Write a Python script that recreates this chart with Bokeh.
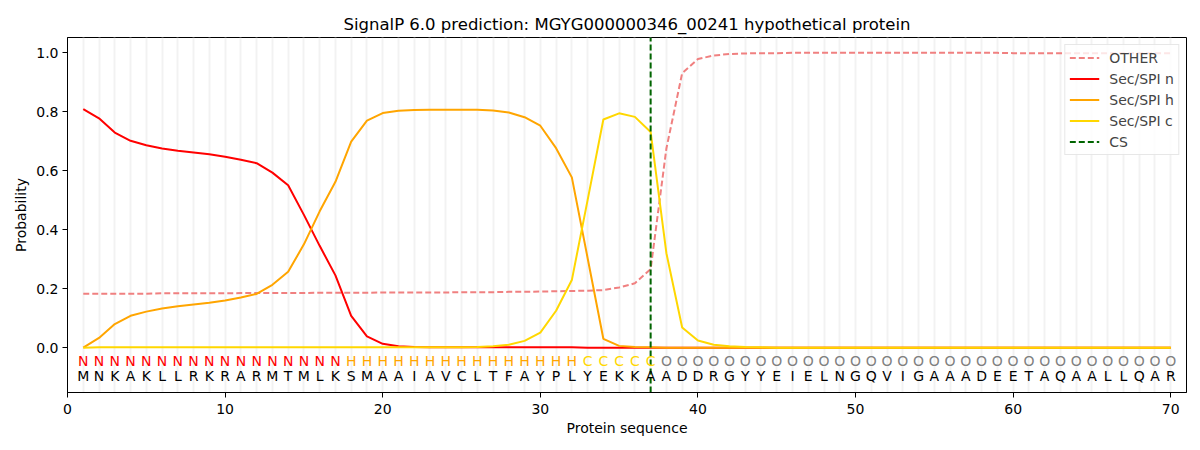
from bokeh.plotting import figure
from bokeh.models import FixedTicker, Range1d, ColumnDataSource, PrintfTickFormatter
from bokeh.core.properties import value
from bokeh.embed import file_html
from bokeh.resources import INLINE

title_text = "SignalP 6.0 prediction: MGYG000000346_00241 hypothetical protein"

residues = list("MNKAKLLRKRARMTMLKSMAAIAVCLTFAYPLYEKKAADDRGYYEIELNGQVIGAAADEETAQAALLQAR")
region_labels = list("NNNNNNNNNNNNNNNNNHHHHHHHHHHHHHHHCCCCCOOOOOOOOOOOOOOOOOOOOOOOOOOOOOOOOO")
positions = list(range(1, len(residues) + 1))

other = [0.183, 0.183, 0.183, 0.183, 0.183, 0.184, 0.184, 0.184, 0.184, 0.184,
         0.185, 0.185, 0.185, 0.185, 0.185, 0.186, 0.186, 0.186, 0.186, 0.187,
         0.187, 0.187, 0.187, 0.187, 0.188, 0.188, 0.188, 0.189, 0.189, 0.190,
         0.191, 0.192, 0.193, 0.195, 0.204, 0.218, 0.266, 0.675, 0.930, 0.978,
         0.990, 0.995, 0.997, 0.998, 0.998, 0.999, 0.999, 0.999, 0.999, 0.999,
         0.999, 0.999, 0.999, 0.999, 0.999, 0.999, 0.999, 0.999, 0.999, 0.998,
         0.998, 0.998, 0.998, 0.998, 0.998, 0.998, 0.998, 0.998, 0.998, 0.998]

sec_n = [0.808, 0.777, 0.729, 0.701, 0.686, 0.675, 0.667, 0.661, 0.655, 0.647,
         0.637, 0.625, 0.593, 0.550, 0.450, 0.345, 0.245, 0.108, 0.038, 0.013,
         0.005, 0.002, 0.001, 0.001, 0.001, 0.001, 0.001, 0.001, 0.001, 0.001,
         0.001, 0.001, 0.000, 0.000, 0.000, 0.000, 0.000, 0.000, 0.000, 0.000,
         0.000, 0.000, 0.000, 0.000, 0.000, 0.000, 0.000, 0.000, 0.000, 0.000,
         0.000, 0.000, 0.000, 0.000, 0.000, 0.000, 0.000, 0.000, 0.000, 0.000,
         0.000, 0.000, 0.000, 0.000, 0.000, 0.000, 0.000, 0.000, 0.000, 0.000]

sec_h = [0.000, 0.033, 0.080, 0.108, 0.122, 0.133, 0.140, 0.146, 0.152, 0.160,
         0.170, 0.182, 0.213, 0.257, 0.350, 0.462, 0.562, 0.698, 0.769, 0.795,
         0.803, 0.805, 0.806, 0.806, 0.806, 0.806, 0.804, 0.797, 0.781, 0.752,
         0.676, 0.577, 0.304, 0.030, 0.006, 0.002, 0.001, 0.000, 0.000, 0.000,
         0.000, 0.000, 0.000, 0.000, 0.000, 0.000, 0.000, 0.000, 0.000, 0.000,
         0.000, 0.000, 0.000, 0.000, 0.000, 0.000, 0.000, 0.000, 0.000, 0.000,
         0.000, 0.000, 0.000, 0.000, 0.000, 0.000, 0.000, 0.000, 0.000, 0.000]

sec_c = [0.000, 0.001, 0.001, 0.001, 0.001, 0.001, 0.001, 0.001, 0.001, 0.001,
         0.001, 0.001, 0.001, 0.001, 0.001, 0.001, 0.001, 0.001, 0.001, 0.001,
         0.001, 0.001, 0.001, 0.001, 0.001, 0.002, 0.005, 0.010, 0.023, 0.051,
         0.125, 0.229, 0.500, 0.773, 0.794, 0.782, 0.731, 0.320, 0.068, 0.024,
         0.010, 0.005, 0.002, 0.001, 0.000, 0.000, 0.000, 0.000, 0.000, 0.000,
         0.000, 0.000, 0.000, 0.000, 0.000, 0.000, 0.000, 0.000, 0.000, 0.000,
         0.000, 0.000, 0.000, 0.000, 0.000, 0.000, 0.000, 0.000, 0.000, 0.000]

cs_position = 37

label_colors_map = {"N": "red", "H": "orange", "C": "gold", "O": "gray"}
y_ticks = [0.0, 0.2, 0.4, 0.6, 0.8, 1.0]
x_ticks = [0, 10, 20, 30, 40, 50, 60, 70]
y_lo, y_hi = -0.152, 1.051

FONT = "DejaVu Sans"

p = figure(frame_width=1119, frame_height=355, output_backend="svg", toolbar_location=None,
           x_range=Range1d(0, 71), y_range=Range1d(y_lo, y_hi),
           title=title_text)
p.min_border_left = 67
p.min_border_right = 13
p.min_border_bottom = 57
p.min_border_top = 37

p.title.align = "center"
p.title.text_font = FONT
p.title.text_font_size = "16.5px"
p.title.text_font_style = "normal"
p.title.text_color = "black"
p.title.standoff = 8

p.outline_line_color = "black"
p.outline_line_width = 1
p.outline_line_alpha = 1

p.ygrid.grid_line_color = None
p.xgrid.ticker = FixedTicker(ticks=positions)
p.xgrid.grid_line_color = "#f2f2f2"
p.xgrid.grid_line_width = 2

for ax in (p.xaxis[0], p.yaxis[0]):
    ax.axis_line_color = "black"
    ax.major_tick_line_color = "black"
    ax.minor_tick_line_color = None
    ax.major_tick_in = 0
    ax.major_tick_out = 5
    ax.major_label_text_font = FONT
    ax.major_label_text_font_size = "14px"
    ax.major_label_text_color = "black"
    ax.axis_label_text_font = FONT
    ax.axis_label_text_font_size = "14px"
    ax.axis_label_text_font_style = "normal"
    ax.axis_label_text_color = "black"

p.xaxis.major_label_standoff = 6
p.yaxis.major_label_standoff = 4
p.xaxis.ticker = FixedTicker(ticks=x_ticks)
p.yaxis.ticker = FixedTicker(ticks=y_ticks)
p.yaxis.formatter = PrintfTickFormatter(format="%.1f")
p.xaxis.axis_label = "Protein sequence"
p.yaxis.axis_label = "Probability"
p.xaxis.axis_label_standoff = 3
p.yaxis.axis_label_standoff = 4

p.line(positions, other, line_color="lightcoral", line_width=2, line_dash="6 3", legend_label="OTHER")
p.line(positions, sec_n, line_color="red", line_width=2, legend_label="Sec/SPI n")
p.line(positions, sec_h, line_color="orange", line_width=2, legend_label="Sec/SPI h")
p.line(positions, sec_c, line_color="gold", line_width=2, legend_label="Sec/SPI c")
p.line(x=[cs_position, cs_position], y=[y_lo, y_hi], line_color="darkgreen", line_width=2,
       line_dash="6 3", legend_label="CS")

label_src = ColumnDataSource(dict(
    x=positions,
    y=[-0.046] * len(positions),
    text=region_labels,
    color=[label_colors_map[c] for c in region_labels],
))
p.text(x="x", y="y", text="text", text_color="color", source=label_src,
       text_align="center", text_baseline="middle",
       text_font=value(FONT), text_font_size="14px")

res_src = ColumnDataSource(dict(
    x=positions,
    y=[-0.097] * len(positions),
    text=residues,
))
p.text(x="x", y="y", text="text", text_color="black", source=res_src,
       text_align="center", text_baseline="middle",
       text_font=value(FONT), text_font_size="14px")

lg = p.legend[0]
lg.location = "top_right"
lg.margin = 7
lg.padding = 4
lg.spacing = 4
lg.glyph_width = 30
lg.glyph_height = 17
lg.label_height = 17
lg.label_standoff = 10
lg.label_text_font = FONT
lg.label_text_font_size = "14px"
lg.border_line_color = "#d0d0d0"
lg.border_line_width = 1
lg.background_fill_alpha = 0.8

open("out.html", "w").write(file_html(p, INLINE))
